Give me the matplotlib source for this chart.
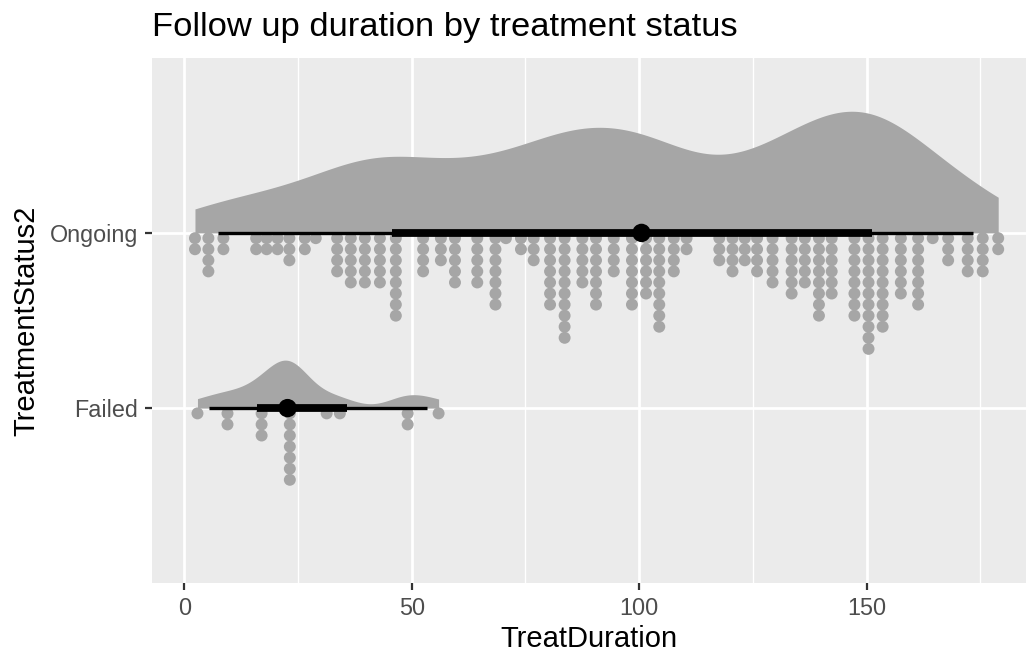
#!/usr/bin/env python
"""Raincloud plot of follow-up duration by treatment status: density slab, dot stacks and median interval."""

import numpy as np
import matplotlib.pyplot as plt

plt.rcParams["font.family"] = ["Liberation Sans", "DejaVu Sans"]

#+++ Data -- dot-stack bin centres (days) and number of patients stacked in each bin
ongoing_bins = [2.35, 5.3, 8.6, 15.8, 18.1, 20.5, 23.1, 26.5, 28.9, 33.6, 36.6, 39.7, 43.0, 46.5,
                52.5, 56.4, 59.5, 64.4, 68.4, 70.7, 74.0, 76.8, 80.4, 83.6, 87.5, 90.5, 94.4,
                98.4, 101.5, 104.4, 107.6, 110.4, 117.6, 120.5, 123.2, 125.9, 129.3, 133.5,
                136.4, 139.5, 142.3, 147.3, 150.4, 153.5, 157.5, 161.3, 164.5, 167.9, 172.2,
                175.5, 178.9]
ongoing_counts = [2, 4, 2, 2, 2, 2, 3, 2, 1, 4, 5, 5, 5, 8,
                  4, 3, 5, 5, 7, 1, 2, 3, 7, 10, 5, 7, 4,
                  7, 6, 9, 4, 2, 3, 4, 3, 4, 5, 6,
                  5, 8, 6, 8, 11, 9, 6, 7, 1, 3, 4,
                  4, 2]
failed_bins = [2.9, 9.5, 17.0, 23.2, 31.3, 34.2, 49.1, 55.9]
failed_counts = [1, 2, 3, 7, 1, 1, 2, 1]

# median, 66% and 95% intervals
groups = ["Failed", "Ongoing"]
medians = [22.7, 100.5]
lower_66 = [16.0, 45.7]
upper_66 = [35.8, 151.2]
lower_95 = [5.5, 7.5]
upper_95 = [53.4, 173.4]
#---

values = {
    "Ongoing": np.repeat(ongoing_bins, ongoing_counts),
    "Failed": np.repeat(failed_bins, failed_counts),
}

GREY = "#A6A6A6"
PX_PER_Y = 175.7  # pixels per category step
SQ2PI = np.sqrt(2 * np.pi)


def bw_sj_dpi(x):
    # Sheather-Jones direct plug-in bandwidth (as R's bw.SJ(method = "dpi"))
    n = len(x)
    scale = min(np.std(x, ddof=1), np.subtract(*np.quantile(x, [0.75, 0.25])) / 1.349)
    d = x[:, None] - x[None, :]

    def SDh(h):
        u = d / h
        return ((u**4 - 6 * u**2 + 3) * np.exp(-u**2 / 2)).sum() / (n * (n - 1) * h**5 * SQ2PI)

    def TDh(h):
        u = d / h
        return ((u**6 - 15 * u**4 + 45 * u**2 - 15) * np.exp(-u**2 / 2)).sum() / (n * (n - 1) * h**7 * SQ2PI)

    b = 1.23 * scale * n ** (-1 / 9)
    TD = -TDh(b)
    c1 = 1 / (2 * np.sqrt(np.pi) * n)
    return (c1 / SDh((2.394 / (n * TD)) ** (1 / 7))) ** (1 / 5)


def trimmed_density(x, n_grid=512):
    grid = np.linspace(x.min(), x.max(), n_grid)
    bw = bw_sj_dpi(x)
    z = (grid[:, None] - x[None, :]) / bw
    dens = np.exp(-0.5 * z ** 2).sum(axis=1) / (len(x) * bw * SQ2PI)
    return grid, dens * len(x)  # count-scaled, so slabs share one scale


slabs = {g: trimmed_density(values[g]) for g in groups}
slab_max = max(d.max() for _, d in slabs.values())
slab_height = 122 / PX_PER_Y

fig = plt.figure(figsize=(10.27, 6.54), dpi=100)
ax = fig.add_axes([151.7 / 1027, 1 - 583.3 / 654, (1025.5 - 151.7) / 1027, (583.3 - 57.7) / 654])
ax.set_facecolor("#EBEBEB")

ax.set_xlim(-7.16, 184.9)
ax.set_ylim(0, 3)
ax.set_xticks([0, 50, 100, 150])
ax.set_xticks([25, 75, 125, 175], minor=True)
ax.set_yticks([1, 2])
ax.set_yticklabels(groups)
ax.grid(True, which="major", color="white", linewidth=1.95, zorder=0)
ax.grid(True, which="minor", axis="x", color="white", linewidth=0.97, zorder=0)
ax.set_axisbelow(True)
for s in ax.spines.values():
    s.set_visible(False)
ax.tick_params(which="major", length=5.2, width=1.6, color="#333333", labelcolor="#4D4D4D",
               labelsize=16.8, pad=4.5)
ax.tick_params(which="minor", length=0)

dot_off = 5.3 / PX_PER_Y
dot_step = 11.1 / PX_PER_Y
for i, g in enumerate(groups):
    y0 = i + 1
    # density slab above the baseline
    gx, gd = slabs[g]
    ax.fill_between(gx, y0, y0 + gd / slab_max * slab_height, color=GREY, lw=0, zorder=2)

    # dot stacks below the baseline
    bins = ongoing_bins if g == "Ongoing" else failed_bins
    counts = ongoing_counts if g == "Ongoing" else failed_counts
    dx, dy = [], []
    for b, c in zip(bins, counts):
        dx += [b] * c
        dy += [y0 - dot_off - k * dot_step for k in range(c)]
    ax.scatter(dx, dy, s=74, color=GREY, edgecolors="none", zorder=3)

    # point + interval
    ax.plot([lower_95[i], upper_95[i]], [y0, y0], color="black", lw=2.4, solid_capstyle="butt", zorder=4)
    ax.plot([lower_66[i], upper_66[i]], [y0, y0], color="black", lw=5.6, solid_capstyle="butt", zorder=4)
    ax.scatter([medians[i]], [y0], s=175, color="black", edgecolors="none", zorder=5)

ax.set_xlabel("TreatDuration", fontsize=21, labelpad=4)
ax.set_ylabel("TreatmentStatus2", fontsize=21, labelpad=7)
fig.text(151.7 / 1027, 1 - 36 / 654, "Follow up duration by treatment status", fontsize=24.8,
         ha="left", va="baseline")

fig.savefig("out.png", dpi=100)
